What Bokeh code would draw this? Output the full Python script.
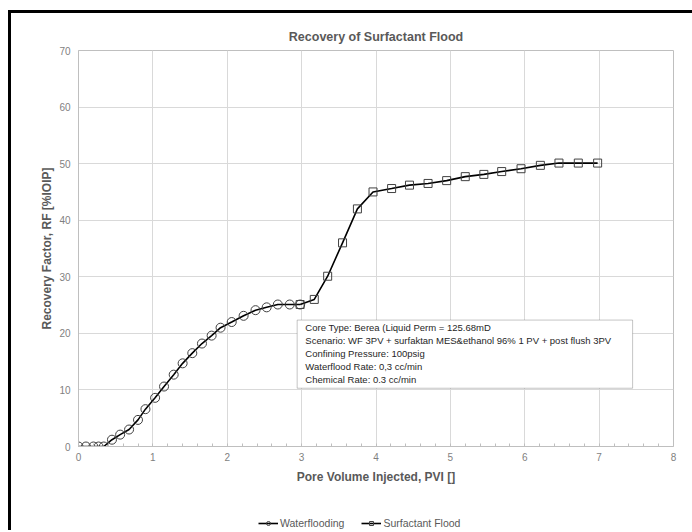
from bokeh.plotting import figure
from bokeh.layouts import column
from bokeh.models import Legend, LegendItem, Label, BoxAnnotation, FixedTicker, Range1d
from bokeh.embed import file_html
from bokeh.resources import INLINE

# Data
wf_pvi = [0.0, 0.1, 0.2, 0.27, 0.34, 0.45, 0.56, 0.68, 0.80, 0.90, 1.03, 1.15, 1.28,
          1.40, 1.53, 1.66, 1.79, 1.91, 2.06, 2.22, 2.38, 2.53, 2.68, 2.84, 2.98]
wf_rf = [0.0, 0.0, 0.0, 0.0, 0.0, 1.2, 2.1, 3.0, 4.7, 6.6, 8.6, 10.6, 12.7,
         14.7, 16.5, 18.2, 19.6, 21.0, 22.0, 23.1, 24.1, 24.6, 25.1, 25.1, 25.1]
sf_pvi = [2.98, 3.17, 3.35, 3.55, 3.75, 3.96, 4.21, 4.45, 4.70, 4.95, 5.20, 5.45,
          5.69, 5.95, 6.21, 6.46, 6.72, 6.98]
sf_rf = [25.1, 26.0, 30.1, 36.0, 42.0, 45.0, 45.6, 46.2, 46.5, 47.0, 47.7, 48.1,
         48.6, 49.1, 49.7, 50.1, 50.1, 50.1]
series_names = ["Waterflooding", "Surfactant Flood"]
x_ticks = [0, 1, 2, 3, 4, 5, 6, 7, 8]
y_ticks = [0, 10, 20, 30, 40, 50, 60, 70]
note_lines = [
    "Core Type: Berea (Liquid Perm = 125.68mD",
    "Scenario: WF 3PV + surfaktan MES&ethanol 96% 1 PV + post flush 3PV",
    "Confining Pressure: 100psig",
    "Waterflood Rate: 0,3 cc/min",
    "Chemical Rate: 0.3 cc/min",
]

FONT = "Liberation Sans"
GRAY = "#595959"
W = 681

fig = figure(width=W, height=473, output_backend="svg", toolbar_location=None,
             x_range=Range1d(0, 8), y_range=Range1d(0, 70),
             min_border_left=67, min_border_top=37, min_border_right=19, min_border_bottom=40)

fig.title.text = "Recovery of Surfactant Flood"
fig.title.align = "center"
fig.title.text_font = FONT
fig.title.text_font_size = "12.5px"
fig.title.text_font_style = "bold"
fig.title.text_color = GRAY
fig.title.offset = 0
fig.title.standoff = 14

fig.outline_line_color = "#bfbfbf"
fig.outline_line_width = 1

fig.xaxis.ticker = FixedTicker(ticks=x_ticks, minor_ticks=[i / 5 for i in range(1, 40)])
fig.yaxis.ticker = FixedTicker(ticks=y_ticks)

for ax in (fig.xaxis[0], fig.yaxis[0]):
    ax.axis_line_color = "#bfbfbf"
    ax.major_label_text_font = FONT
    ax.major_label_text_font_size = "10px"
    ax.major_label_text_color = "#7f7f7f"
    ax.axis_label_text_font = FONT
    ax.axis_label_text_font_size = "12px"
    ax.axis_label_text_font_style = "bold"
    ax.axis_label_text_color = GRAY

fig.xaxis.axis_label = "Pore Volume Injected, PVI []"
fig.xaxis.major_tick_in = 0
fig.xaxis.major_tick_out = 0
fig.xaxis.minor_tick_in = 3
fig.xaxis.minor_tick_out = 0
fig.xaxis.minor_tick_line_color = "#bfbfbf"
fig.xaxis.major_label_standoff = 6
fig.xaxis.axis_label_standoff = 6

fig.yaxis.axis_label = "Recovery Factor, RF [%IOIP]"
fig.yaxis.major_tick_in = 0
fig.yaxis.major_tick_out = 0
fig.yaxis.minor_tick_line_color = None
fig.yaxis.major_label_standoff = 8
fig.yaxis.axis_label_standoff = 2

fig.xgrid.grid_line_color = "#d9d9d9"
fig.ygrid.grid_line_color = "#d9d9d9"

fig.line(wf_pvi, wf_rf, line_color="black", line_width=1.6)
fig.scatter(wf_pvi, wf_rf, marker="circle", size=9, fill_color=None,
            line_color="#404040", line_width=1)
fig.line(sf_pvi, sf_rf, line_color="black", line_width=1.6)
fig.scatter(sf_pvi, sf_rf, marker="square", size=8, fill_color=None,
            line_color="#404040", line_width=1)

# annotation box
fig.add_layout(BoxAnnotation(left=2.94, right=7.45, bottom=10.3, top=22.35,
                             fill_color="white", fill_alpha=1,
                             line_color="#404040", line_width=1))
fig.add_layout(Label(x=3.05, y=22.0, text="\n".join(note_lines),
                     text_font=FONT, text_font_size="9.5px", text_color="#262626",
                     text_baseline="top", text_line_height=1.17))

# legend strip below the chart (its renderers sit outside the strip's ranges)
leg = figure(width=W, height=44, output_backend="svg", toolbar_location=None,
             x_range=Range1d(100, 101), y_range=Range1d(100, 101),
             x_axis_type=None, y_axis_type=None, min_border=0)
leg.outline_line_color = None
leg.xgrid.visible = False
leg.ygrid.visible = False
l1 = leg.line(wf_pvi, wf_rf, line_color="black", line_width=1.6)
s1 = leg.scatter(wf_pvi, wf_rf, marker="circle", size=7, fill_color=None,
                 line_color="#404040", line_width=1)
l2 = leg.line(sf_pvi, sf_rf, line_color="black", line_width=1.6)
s2 = leg.scatter(sf_pvi, sf_rf, marker="square", size=7, fill_color=None,
                 line_color="#404040", line_width=1)
legend = Legend(items=[LegendItem(label=series_names[0], renderers=[l1, s1]),
                       LegendItem(label=series_names[1], renderers=[l2, s2])],
                orientation="horizontal", location=(180, 1),
                label_text_font=FONT, label_text_font_size="10.5px",
                label_text_color=GRAY, glyph_width=20, glyph_height=10,
                label_standoff=2, spacing=17, padding=0, margin=0,
                border_line_color=None, background_fill_alpha=0)
leg.add_layout(legend)

p = column(fig, leg, spacing=0,
           styles={"border-left": "3px solid black", "border-top": "3px solid black",
                   "box-sizing": "content-box", "overflow": "hidden",
                   "margin-left": "8px", "margin-top": "10px"})

open("out.html", "w").write(file_html(p, INLINE))
